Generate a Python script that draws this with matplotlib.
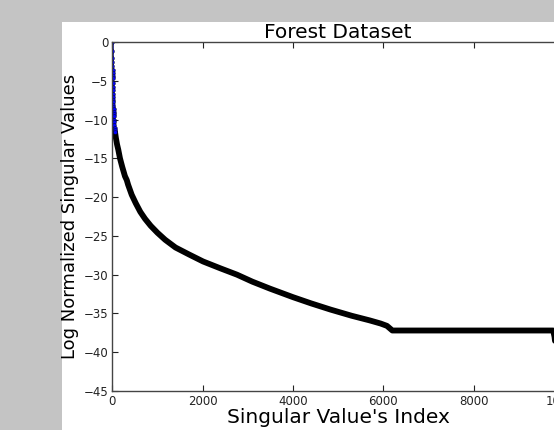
import numpy as np
import matplotlib
matplotlib.use("Agg")
import matplotlib.pyplot as plt
from matplotlib.patches import Rectangle

# values (index, log normalized singular value)
top_idx = [0, 1, 2, 3, 4, 5, 6, 7, 8, 10, 12, 14, 16, 18, 20, 22, 24, 26, 28,
           30, 32, 35, 38, 41, 45, 50, 55, 60]
top_val = [0, -1.2, -2.0, -2.6, -3.1, -3.6, -4.0, -4.4, -4.7, -5.3, -5.8, -6.2,
           -6.7, -7.1, -7.5, -7.8, -8.1, -8.4, -8.7, -9.0, -9.3, -9.6, -10.0,
           -10.3, -10.7, -11.1, -11.4, -11.6]

curve_idx = [60, 80, 105, 133, 170, 220, 280, 320, 350, 430, 520, 620, 725, 850,
             1000, 1170, 1400, 1700, 2010, 2400, 2760, 3100, 3490, 4000, 4400,
             4830, 5300, 5700, 5940, 6080, 6200, 9760, 9790, 9810]
curve_val = [-11.6, -12.4, -13.2, -13.9, -15.0, -16.1, -17.3, -17.8, -18.4, -19.7,
             -20.8, -21.9, -22.8, -23.7, -24.6, -25.5, -26.5, -27.4, -28.3, -29.2,
             -30.0, -30.9, -31.8, -32.9, -33.7, -34.5, -35.3, -35.9, -36.3, -36.6,
             -37.2, -37.2, -38.0, -39.0]

fig = plt.figure(figsize=(5.54, 4.30), dpi=100)
fig.patch.set_facecolor("#c4c4c4")
# white page area of the screenshot
fig.patches.append(Rectangle((62/554, 0), 1, 408/430, transform=fig.transFigure,
                             facecolor="white", edgecolor="none", zorder=-10))

ax = fig.add_axes([112.3/554, 39/430, 451.7/554, 349/430])
ax.plot(curve_idx, curve_val, color="k", lw=4.2, solid_capstyle="round",
        solid_joinstyle="round")
ax.plot(top_idx, top_val, color="#1a1a99", lw=2.2)
ax.plot(top_idx, top_val, "o", ms=2.8, mfc="b", mec="k", mew=0.3)

ax.set_xlim(0, 10000)
ax.set_ylim(-45, 0)
ax.set_xticks([0, 2000, 4000, 6000, 8000, 10000])
ax.set_yticks(np.arange(-45, 1, 5))
ax.tick_params(direction="in", length=4, width=0.8, labelsize=8.5,
               top=True, right=True, pad=3, colors="#222222")
for s in ax.spines.values():
    s.set_color("#444444")
    s.set_linewidth(1.0)

ax.set_title("Forest Dataset", fontsize=14.5, pad=3)
ax.set_xlabel("Singular Value's Index", fontsize=14.5, labelpad=0)
ax.set_ylabel("Log Normalized Singular Values", fontsize=13, labelpad=3)

plt.savefig("out.png", dpi=100, facecolor=fig.get_facecolor())
